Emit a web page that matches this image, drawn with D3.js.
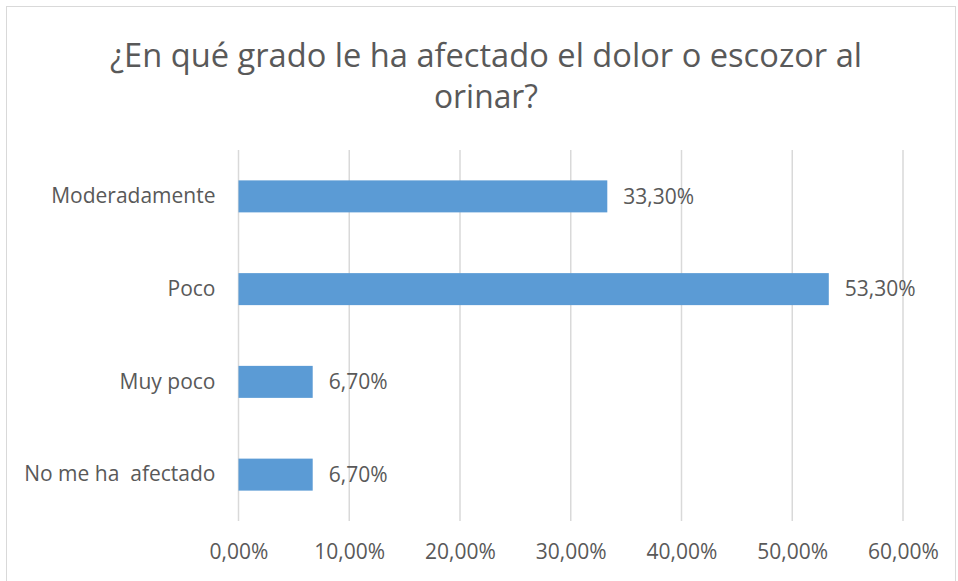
<!DOCTYPE html>
<html>
<head>
<meta charset="utf-8">
<script src="https://cdn.jsdelivr.net/npm/d3@7"></script>
<style>
  body { margin: 0; background: #fff; }
  text { font-family: "Open Sans", "Noto Sans", sans-serif; fill: #595959; }
</style>
</head>
<body>
<script>
// data
const categories = ["Moderadamente", "Poco", "Muy poco", "No me ha  afectado"];
const values = [33.3, 53.3, 6.7, 6.7];
const tickValues = [0, 10, 20, 30, 40, 50, 60];
const titleLines = ["¿En qué grado le ha afectado el dolor o escozor al", "orinar?"];
const titleWidths = [752, 104];

const width = 958, height = 581;
const plot = { left: 238.5, right: 903, top: 150, bottom: 521 };

const fmt = v => v.toFixed(2).replace(".", ",") + "%";

const svg = d3.select("body").append("svg")
  .attr("width", width)
  .attr("height", height);

// chart border
svg.append("rect")
  .attr("x", 6.5).attr("y", 6.5)
  .attr("width", width - 9).attr("height", height - 4)
  .attr("fill", "#fff")
  .attr("stroke", "#d9d9d9");

const x = d3.scaleLinear().domain([0, 60]).range([plot.left, plot.right]);
const y = d3.scaleBand().domain(categories)
  .range([plot.top, plot.bottom])
  .paddingInner(0.655).paddingOuter(0.3275);

// title
svg.append("g").selectAll("text")
  .data(titleLines)
  .enter().append("text")
  .attr("x", 486)
  .attr("y", (d, i) => 67 + i * 41)
  .attr("text-anchor", "middle")
  .attr("font-size", "32px")
  .attr("font-weight", 400)
  .attr("textLength", (d, i) => titleWidths[i])
  .attr("lengthAdjust", "spacingAndGlyphs")
  .text(d => d);

// gridlines
svg.append("g").selectAll("line")
  .data(tickValues)
  .enter().append("line")
  .attr("x1", d => x(d)).attr("x2", d => x(d))
  .attr("y1", plot.top).attr("y2", plot.bottom)
  .attr("stroke", "#d9d9d9")
  .attr("stroke-width", 1.5);

// x axis labels
const xAxis = d3.axisBottom(x).tickValues(tickValues).tickFormat(fmt).tickSize(0).tickPadding(23);
const gx = svg.append("g")
  .attr("transform", `translate(0,${plot.bottom})`)
  .call(xAxis);
gx.select(".domain").remove();
gx.selectAll("text")
  .attr("font-size", "21px")
  .attr("fill", "#595959")
  .style("font-family", "\"Open Sans\", sans-serif");

// y axis labels
const yAxis = d3.axisLeft(y).tickSize(0).tickPadding(23);
const gy = svg.append("g")
  .attr("transform", `translate(${plot.left},0)`)
  .call(yAxis);
gy.select(".domain").remove();
gy.selectAll("text")
  .attr("font-size", "21px")
  .attr("fill", "#595959")
  .style("white-space", "pre")
  .style("font-family", "\"Open Sans\", sans-serif");

// bars
svg.append("g").selectAll("rect")
  .data(values)
  .enter().append("rect")
  .attr("x", x(0))
  .attr("y", (d, i) => y(categories[i]))
  .attr("width", d => x(d) - x(0))
  .attr("height", y.bandwidth())
  .attr("fill", "#5b9bd5");

// value labels
svg.append("g").selectAll("text")
  .data(values)
  .enter().append("text")
  .attr("x", d => x(d) + 16)
  .attr("y", (d, i) => y(categories[i]) + y.bandwidth() / 2)
  .attr("dy", "0.35em")
  .attr("font-size", "21px")
  .text(d => fmt(d));
</script>
</body>
</html>
